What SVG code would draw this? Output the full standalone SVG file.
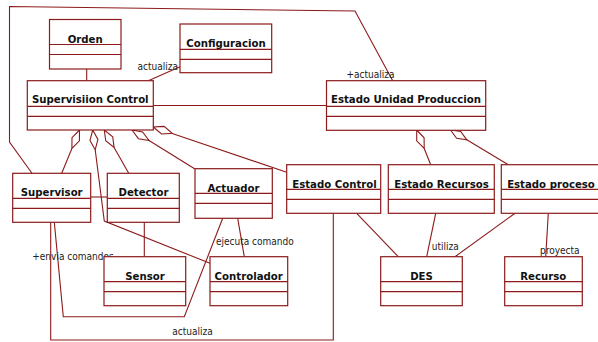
<svg xmlns="http://www.w3.org/2000/svg" width="598" height="342" viewBox="0 0 598 342">
  <style>
    .cls rect { fill: #ffffff; stroke: #8c1a1a; stroke-width: 1.2; }
    .cls line { stroke: #8c1a1a; stroke-width: 1.2; }
    .cls text { font-family: "DejaVu Sans Condensed", "DejaVu Sans", sans-serif; font-stretch: condensed; font-weight: bold; font-size: 11.3px; fill: #111111; text-anchor: middle; }
    .conn polyline, .conn line { fill: none; stroke: #8c1a1a; stroke-width: 1.1; }
    .conn polygon { fill: #ffffff; stroke: #8c1a1a; stroke-width: 1.1; }
    .lbl { font-family: "DejaVu Sans Condensed", "DejaVu Sans", sans-serif; font-stretch: condensed; font-size: 10px; fill: #222222; }
  </style>
  <rect width="598" height="342" fill="#ffffff"/>

  <!-- connectors -->
  <g id="connectors" class="conn">
    <!-- outer association Supervisor -> Estado Unidad Produccion -->
    <polyline points="32,173.3 9.5,142 9.5,6.5 355,11 392.7,80.7"/>
    <text class="lbl" x="346.5" y="78">+actualiza</text>
    <!-- Orden - Supervisiion Control -->
    <line x1="86.7" y1="69" x2="86.7" y2="80.7"/>
    <!-- Supervisiion Control - Configuracion -->
    <line x1="148.3" y1="80.7" x2="180" y2="66.7"/>
    <text class="lbl" x="178" y="69.5" text-anchor="end">actualiza</text>
    <!-- Supervisiion Control - Estado Unidad Produccion -->
    <line x1="153.3" y1="105.5" x2="326.5" y2="105.5"/>

    <!-- aggregations from Supervisiion Control -->
    <polygon points="79.5,130 72,137.7 71.9,148.5 79.4,140.8"/>
    <line x1="71.9" y1="148.5" x2="61.7" y2="173.3"/>
    <polygon points="92.7,130 90,140.4 95.2,149.8 97.9,139.4"/>
    <polyline points="95.2,149.8 104.3,221 210,263.3"/>
    <polygon points="104.3,130 105.7,140.7 114.1,147.4 112.7,136.7"/>
    <line x1="114.1" y1="147.4" x2="128.7" y2="173.3"/>
    <polygon points="132,130 138.4,138.7 149,140.5 142.6,131.9"/>
    <line x1="149" y1="140.5" x2="195" y2="169"/>
    <polygon points="153.3,127 161.5,134 172.2,133.4 164.1,126.4"/>
    <line x1="172.2" y1="133.4" x2="286.7" y2="172.3"/>

    <!-- aggregations from Estado Unidad Produccion -->
    <polygon points="416.7,130 416.7,140.8 424.2,148.5 424.1,137.8"/>
    <line x1="424.2" y1="148.5" x2="430.7" y2="164.7"/>
    <polygon points="450.5,130 456.6,138.3 466.8,139.8 460.7,131.5"/>
    <line x1="466.8" y1="139.8" x2="508.3" y2="164.7"/>

    <!-- Supervisor - Detector -->
    <line x1="90.7" y1="197" x2="107.3" y2="197"/>
    <!-- Detector - Sensor -->
    <line x1="144.3" y1="222.3" x2="144.3" y2="256.7"/>
    <!-- Actuador - Controlador -->
    <line x1="237.7" y1="218.3" x2="244.3" y2="256.7"/>
    <text class="lbl" x="216" y="245">ejecuta comando</text>
    <!-- Actuador - Supervisor -->
    <polyline points="222.7,218.3 184.3,316.7 63.3,316.7 54.3,222.3"/>
    <text class="lbl" x="32.3" y="260">+envia comandos</text>
    <!-- Supervisor - Estado Control -->
    <polyline points="50.7,222.3 50.7,340 333.3,340 333.3,213.3"/>
    <text class="lbl" x="172.3" y="335">actualiza</text>

    <!-- states - DES / Recurso -->
    <line x1="356.7" y1="213.3" x2="398.3" y2="256.7"/>
    <line x1="435.7" y1="213.3" x2="426.7" y2="256.7"/>
    <text class="lbl" x="431.7" y="250">utiliza</text>
    <line x1="515" y1="213.3" x2="455" y2="256.7"/>
    <line x1="548.3" y1="213.3" x2="545.7" y2="256.7"/>
    <text class="lbl" x="540" y="254">proyecta</text>
  </g>

  <!-- classes -->
  <g id="orden" class="cls">
    <rect x="49.5" y="19.5" width="71.5" height="49.5"/>
    <line x1="49.5" y1="44.5" x2="121" y2="44.5"/>
    <line x1="49.5" y1="54.5" x2="121" y2="54.5"/>
    <text x="85.2" y="42.5">Orden</text>
  </g>
  <g id="configuracion" class="cls">
    <rect x="180" y="24" width="91.7" height="48.7"/>
    <line x1="180" y1="49.3" x2="271.7" y2="49.3"/>
    <line x1="180" y1="59.3" x2="271.7" y2="59.3"/>
    <text x="226" y="46.5">Configuracion</text>
  </g>
  <g id="supervision-control" class="cls">
    <rect x="27.3" y="80.7" width="126" height="49.3"/>
    <line x1="27.3" y1="106.3" x2="153.3" y2="106.3"/>
    <line x1="27.3" y1="116.3" x2="153.3" y2="116.3"/>
    <text x="90.3" y="103.2">Supervisiion Control</text>
  </g>
  <g id="estado-unidad-produccion" class="cls">
    <rect x="326.5" y="80.7" width="159.2" height="49.6"/>
    <line x1="326.5" y1="106.3" x2="485.7" y2="106.3"/>
    <line x1="326.5" y1="116.3" x2="485.7" y2="116.3"/>
    <text x="406" y="103.2">Estado Unidad Produccion</text>
  </g>
  <g id="supervisor" class="cls">
    <rect x="12.7" y="173.3" width="78" height="49"/>
    <line x1="12.7" y1="198.3" x2="90.7" y2="198.3"/>
    <line x1="12.7" y1="208.3" x2="90.7" y2="208.3"/>
    <text x="51.7" y="196">Supervisor</text>
  </g>
  <g id="detector" class="cls">
    <rect x="107.3" y="173.3" width="72" height="49"/>
    <line x1="107.3" y1="198.3" x2="179.3" y2="198.3"/>
    <line x1="107.3" y1="208.3" x2="179.3" y2="208.3"/>
    <text x="143.5" y="196">Detector</text>
  </g>
  <g id="actuador" class="cls">
    <rect x="195" y="168.7" width="77.3" height="49.6"/>
    <line x1="195" y1="193.3" x2="272.3" y2="193.3"/>
    <line x1="195" y1="203.3" x2="272.3" y2="203.3"/>
    <text x="233.5" y="191.5">Actuador</text>
  </g>
  <g id="estado-control" class="cls">
    <rect x="286.7" y="164.7" width="94" height="48.6"/>
    <line x1="286.7" y1="189.3" x2="380.7" y2="189.3"/>
    <line x1="286.7" y1="199.3" x2="380.7" y2="199.3"/>
    <text x="334.5" y="187.5">Estado Control</text>
  </g>
  <g id="estado-recursos" class="cls">
    <rect x="388.3" y="164.7" width="106" height="48.6"/>
    <line x1="388.3" y1="189.3" x2="494.3" y2="189.3"/>
    <line x1="388.3" y1="199.3" x2="494.3" y2="199.3"/>
    <text x="441.5" y="187.5">Estado Recursos</text>
  </g>
  <g id="estado-proceso" class="cls">
    <rect x="501.3" y="164.7" width="100" height="48.6"/>
    <line x1="501.3" y1="189.3" x2="601.3" y2="189.3"/>
    <line x1="501.3" y1="199.3" x2="601.3" y2="199.3"/>
    <text x="551" y="187.5">Estado proceso</text>
  </g>
  <g id="sensor" class="cls">
    <rect x="104" y="256.7" width="81.7" height="49"/>
    <line x1="104" y1="281.7" x2="185.7" y2="281.7"/>
    <line x1="104" y1="291.7" x2="185.7" y2="291.7"/>
    <text x="145" y="280">Sensor</text>
  </g>
  <g id="controlador" class="cls">
    <rect x="210" y="256.7" width="77.7" height="49"/>
    <line x1="210" y1="281.7" x2="287.7" y2="281.7"/>
    <line x1="210" y1="291.7" x2="287.7" y2="291.7"/>
    <text x="248.7" y="280">Controlador</text>
  </g>
  <g id="des" class="cls">
    <rect x="380.7" y="256.7" width="81.6" height="49"/>
    <line x1="380.7" y1="281.7" x2="462.3" y2="281.7"/>
    <line x1="380.7" y1="291.7" x2="462.3" y2="291.7"/>
    <text x="421.5" y="280">DES</text>
  </g>
  <g id="recurso" class="cls">
    <rect x="504.7" y="256.7" width="77.6" height="49"/>
    <line x1="504.7" y1="281.7" x2="582.3" y2="281.7"/>
    <line x1="504.7" y1="291.7" x2="582.3" y2="291.7"/>
    <text x="543.3" y="280">Recurso</text>
  </g>
</svg>
